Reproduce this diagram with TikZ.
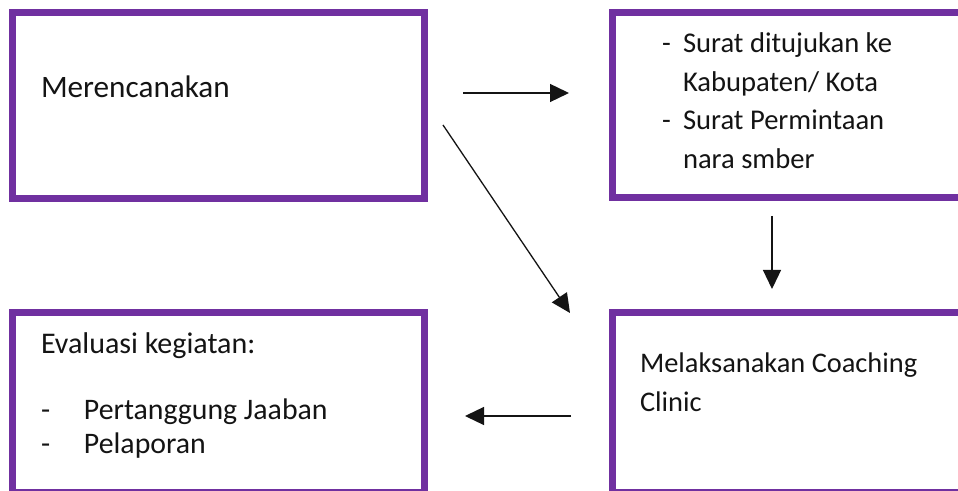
\documentclass[tikz,border=0pt]{standalone}
\usepackage{fontspec}
\setmainfont{Carlito}
\usetikzlibrary{arrows.meta}
\definecolor{boxpurple}{RGB}{112,48,160}
\definecolor{inkc}{RGB}{20,20,20}
\tikzset{
  box/.style={draw=boxpurple, line width=3.5pt, rectangle, anchor=north west, inner sep=0pt, outer sep=0pt},
  txt/.style={anchor=base west, inner sep=0pt, outer sep=0pt, align=left, text=inkc},
  arr/.style={draw=inkc, line width=0.65pt, -{Triangle[length=9.5pt,width=9pt]}},
}
\begin{document}
\begin{tikzpicture}[x=0.5pt,y=-0.5pt]
\useasboundingbox (0,0) rectangle (958,491);
\clip (0,0) rectangle (958,491);
\fill[white] (0,0) rectangle (958,491);
% boxes
\node[box, minimum width=206pt, minimum height=93pt] (plan) at (12.5,12.5) {};
\node[box, minimum width=200pt, minimum height=92.75pt] (surat) at (612.5,12.5) {};
\node[box, minimum width=206pt, minimum height=90pt] (eval) at (12.5,312.5) {};
\node[box, minimum width=200pt, minimum height=90pt] (coach) at (612.5,312.5) {};
% texts
\node[txt, font=\fontsize{15.6pt}{19.25pt}\selectfont] (tplan) at (41,98) {Merencanakan};
\node[txt, font=\fontsize{14.3pt}{19.2pt}\selectfont] (tsurat) at (662,53)
  {\begin{tabular}[t]{@{}p{10.5pt}@{}l@{}}-&Surat ditujukan ke\\ &Kabupaten/ Kota\\-&Surat Permintaan\\ &nara smber\end{tabular}};
\node[txt, font=\fontsize{15pt}{19pt}\selectfont] (tevalh) at (41,354) {Evaluasi kegiatan:};
\node[txt, font=\fontsize{14.9pt}{17pt}\selectfont] (tevall) at (41,420)
  {\begin{tabular}[t]{@{}p{21.5pt}@{}l@{}}-&Pertanggung Jaaban\\-&Pelaporan\end{tabular}};
\node[txt, font=\fontsize{14.2pt}{20pt}\selectfont] (tcoach) at (640,372)
  {\begin{tabular}[t]{@{}l@{}}Melaksanakan Coaching\\Clinic\end{tabular}};
% connector ends
\coordinate (p1) at (463,93);
\coordinate (p2) at (569,93);
\coordinate (p3) at (443,125);
\coordinate (p4) at (570,313);
\coordinate (p5) at (772,216);
\coordinate (p6) at (772,289);
\coordinate (p7) at (571,416);
\coordinate (p8) at (465,416);
\draw[arr] (p1) -- (p2);
\draw[arr] (p3) -- (p4);
\draw[arr] (p5) -- (p6);
\draw[arr] (p7) -- (p8);
\end{tikzpicture}
\end{document}
